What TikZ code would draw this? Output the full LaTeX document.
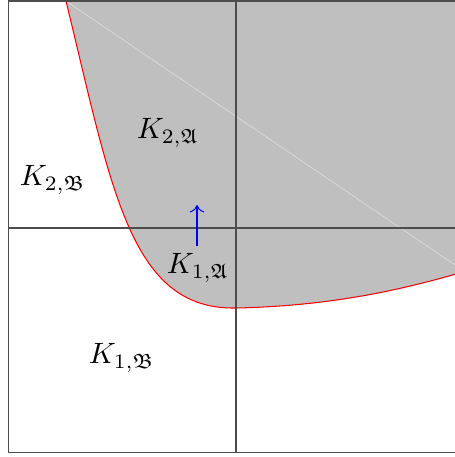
\documentclass[tikz,border=0pt]{standalone}
\usepackage{amssymb}
\usetikzlibrary{arrows.meta}
\begin{document}
\begin{tikzpicture}[x=0.34pt,y=-0.34pt,
  frameline/.style={draw=black!70,line width=0.45pt},
  boundary/.style={draw=red,line width=0.35pt},
  lbl/.style={inner sep=0pt,font=\normalsize}]
\useasboundingbox (0,0) rectangle (455,457);
\begin{scope}
\clip (0,0) rectangle (455,457);
\fill[gray!50] (66,1) .. controls (112,190) and (130,310) .. (236,308) .. controls (330,306) and (400,290) .. (456,274) -- (460,274) -- (460,-5) -- (60,-5) -- cycle;
\draw[gray!25,line width=0.2pt] (66,1) -- (455,265);
\draw[boundary] (66,1) .. controls (112,190) and (130,310) .. (236,308) .. controls (330,306) and (400,290) .. (456,274);
\draw[frameline] (8.5,1) -- (470,1);
\draw[frameline] (8.5,1) -- (8.5,452.5) -- (470,452.5);
\draw[frameline] (236,1) -- (236,452.5);
\draw[frameline] (8.5,228) -- (470,228);
\end{scope}
\node[lbl] (k2a) at (168,133) {$K_{2,\mathfrak{A}}$};
\node[lbl] (k2b) at (53,180) {$K_{2,\mathfrak{B}}$};
\node[lbl] (k1a) at (198,268) {$K_{1,\mathfrak{A}}$};
\node[lbl] (k1b) at (122,358) {$K_{1,\mathfrak{B}}$};
\coordinate (atail) at (197,246);
\coordinate (ahead) at (197,205);
\draw[blue,line width=0.35pt,-{To[length=2.5pt,width=5pt]}] (atail) -- (ahead);
\end{tikzpicture}
\end{document}
